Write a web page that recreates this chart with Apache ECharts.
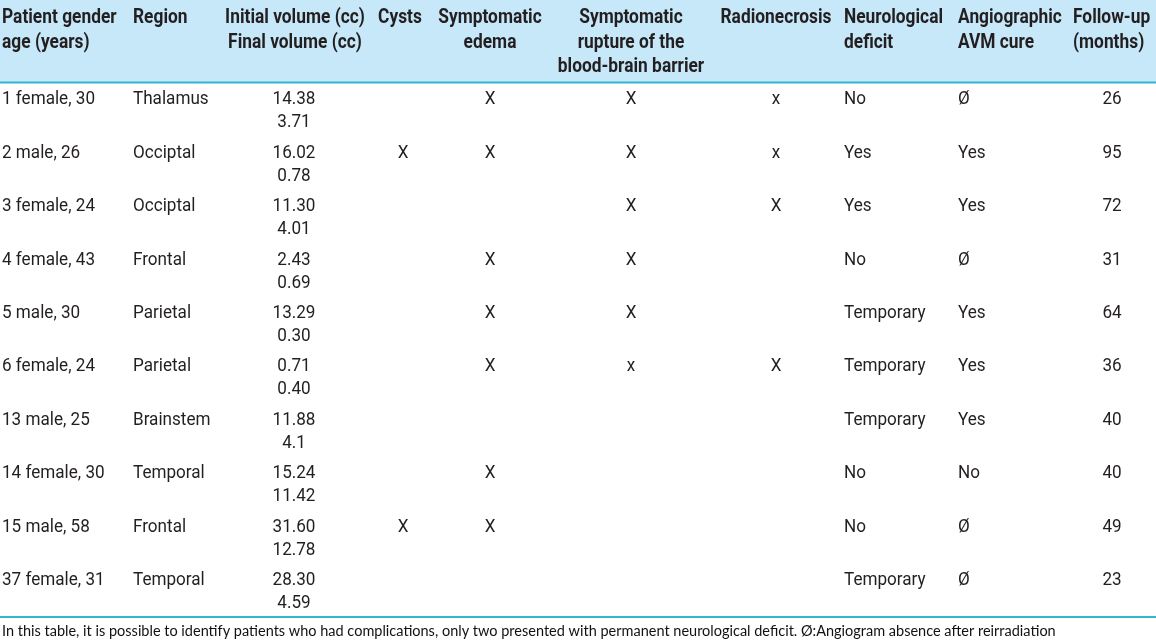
<!DOCTYPE html>
<html>
<head>
<meta charset="utf-8">
<script src="https://cdn.jsdelivr.net/npm/echarts@6/dist/echarts.min.js"></script>
<style>
html,body{margin:0;padding:0;background:#fff;}
#chart{width:1156px;height:644px;}
</style>
</head>
<body>
<div id="chart"></div>
<script>
// ---- data ----
var headers = [
  "Patient gender\nage (years)",
  "Region",
  "Initial volume (cc)\nFinal volume (cc)",
  "Cysts",
  "Symptomatic\nedema",
  "Symptomatic\nrupture of the\nblood-brain barrier",
  "Radionecrosis",
  "Neurological\ndeficit",
  "Angiographic\nAVM cure",
  "Follow-up\n(months)"
];
var patients = ["1 female, 30","2 male, 26","3 female, 24","4 female, 43","5 male, 30","6 female, 24","13 male, 25","14 female, 30","15 male, 58","37 female, 31"];
var regions = ["Thalamus","Occiptal","Occiptal","Frontal","Parietal","Parietal","Brainstem","Temporal","Frontal","Temporal"];
var initialVolume = ["14.38","16.02","11.30","2.43","13.29","0.71","11.88","15.24","31.60","28.30"];
var finalVolume = ["3.71","0.78","4.01","0.69","0.30","0.40","4.1","11.42","12.78","4.59"];
var cysts = ["","X","","","","","","","X",""];
var edema = ["X","X","","X","X","X","","X","X",""];
var rupture = ["X","X","X","X","X","x","","","",""];
var radionecrosis = ["x","x","X","","","X","","","",""];
var deficit = ["No","Yes","Yes","No","Temporary","Temporary","Temporary","No","No","Temporary"];
var avmCure = ["\u00D8","Yes","Yes","\u00D8","Yes","Yes","Yes","No","\u00D8","\u00D8"];
var followUp = ["26","95","72","31","64","36","40","40","49","23"];
var footnote = "In this table, it is possible to identify patients who had complications, only two presented with permanent neurological deficit. \u00D8:Angiogram absence after reirradiation";

// ---- layout ----
var colX =     [2, 133, 294, 403, 490, 631, 776, 844, 958, 1112];
var colAlign = ['left','left','center','center','center','center','center','left','left','center'];
var headX =    [2, 133, 295, 400, 490, 631, 776, 844, 958, 1073];
var headAlign = ['left','left','center','center','center','center','center','left','left','left'];
var columns = [patients, regions, initialVolume, cysts, edema, rupture, radionecrosis, deficit, avmCure, followUp];

var FONT = 'Roboto, "Liberation Sans", sans-serif';
var TEXT = '#231f20';
var LINE = '#33b5d0';
var BODY_SCALE = 0.9;
var HEAD_SCALE = 0.89;

var rowLabels = patients.map(function(p, i){ return 'r' + i; });
var cells = [];
columns.forEach(function(col, c){
  col.forEach(function(v, r){
    if (v !== '') cells.push([colX[c], r, v, 0, c]);
  });
});
finalVolume.forEach(function(v, r){ cells.push([colX[2], r, v, 1, 2]); });

var headerGraphics = [
  {type:'rect', shape:{x:0,y:0,width:1156,height:82}, style:{fill:'#c7e8f9'}, z:0},
  {type:'line', shape:{x1:0,y1:82.5,x2:1156,y2:82.5}, style:{stroke:LINE,lineWidth:2}, z:1},
  {type:'line', shape:{x1:0,y1:617,x2:1156,y2:617}, style:{stroke:LINE,lineWidth:2}, z:1},
  {type:'text', x:2, y:631, style:{text:footnote, font:'14.5px Lato, "Open Sans", sans-serif', fill:'#111', verticalAlign:'middle', align:'left'}, z:2}
];
headers.forEach(function(h, c){
  headerGraphics.push({
    type:'text', x:headX[c], y:6, scaleX:HEAD_SCALE,
    style:{text:h, font:'bold 19.5px ' + FONT, fill:TEXT, align:headAlign[c], verticalAlign:'top', lineHeight:24.5},
    z:2
  });
});

var chart = echarts.init(document.getElementById('chart'), null, {renderer:'canvas'});
chart.setOption({
  animation:false,
  backgroundColor:'#ffffff',
  grid:{left:0,right:0,top:86,bottom:24},
  xAxis:{type:'value',min:0,max:1156,show:false},
  yAxis:{type:'category',data:rowLabels,inverse:true,show:false},
  graphic:headerGraphics,
  series:[{
    type:'custom',
    data:cells,
    renderItem:function(params, api){
      var p = api.coord([api.value(0), api.value(1)]);
      var line = api.value(3);
      var c = api.value(4);
      return {
        type:'text',
        x:p[0],
        y:p[1] - 13 + line * 23,
        scaleX:BODY_SCALE,
        style:{
          text:cells[params.dataIndex][2],
          font:'19px ' + FONT,
          fill:TEXT,
          align:colAlign[c],
          verticalAlign:'middle'
        }
      };
    }
  }]
});
</script>
</body>
</html>
